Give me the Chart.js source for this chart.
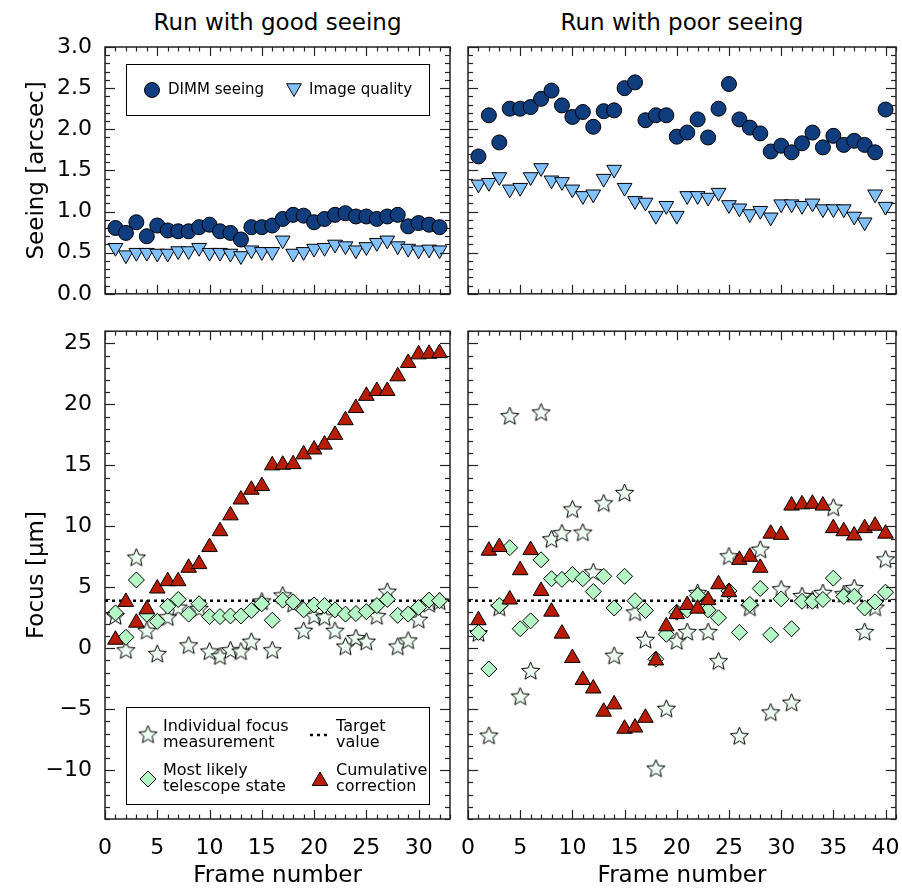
<!DOCTYPE html>
<html>
<head>
<meta charset="utf-8">
<title>Focus runs</title>
<script src="https://cdn.jsdelivr.net/npm/chart.js@4.4.1/dist/chart.umd.min.js"></script>
<style>
  body { margin: 0; background: #fff; }
  #wrap { position: relative; width: 902px; height: 892px; overflow: hidden; }
  #wrap canvas { position: absolute; }
  .ptitle { position: absolute; top: 9px; font: 23px "DejaVu Sans", sans-serif; line-height: 27px; color: #000; text-align: center; white-space: nowrap; }
</style>
</head>
<body>
<div id="wrap">
  <div class="ptitle" style="left:105px; width:345px;">Run with good seeing</div>
  <div class="ptitle" style="left:468px; width:428px;">Run with poor seeing</div>
  <canvas id="seeingGood" width="455" height="320" style="left:0; top:0;"></canvas>
  <canvas id="seeingPoor" width="486" height="320" style="left:430px; top:0;"></canvas>
  <canvas id="focusGood" width="455" height="587" style="left:0; top:305px;"></canvas>
  <canvas id="focusPoor" width="486" height="587" style="left:430px; top:305px;"></canvas>
</div>
<script>
// frame numbers
const goodFrames = [1,2,3,4,5,6,7,8,9,10,11,12,13,14,15,16,17,18,19,20,21,22,23,24,25,26,27,28,29,30,31,32];
const poorFrames = [1,2,3,4,5,6,7,8,9,10,11,12,13,14,15,16,17,18,19,20,21,22,23,24,25,26,27,28,29,30,31,32,33,34,35,36,37,38,39,40];

// seeing [arcsec]
const goodDimm  = [0.80,0.74,0.87,0.70,0.83,0.77,0.76,0.76,0.81,0.84,0.76,0.74,0.66,0.81,0.81,0.83,0.91,0.96,0.95,0.87,0.91,0.96,0.98,0.94,0.94,0.91,0.94,0.96,0.82,0.86,0.84,0.81];
const goodImage = [0.56,0.47,0.50,0.50,0.49,0.49,0.52,0.52,0.56,0.50,0.50,0.49,0.46,0.53,0.51,0.51,0.65,0.49,0.51,0.55,0.56,0.60,0.58,0.53,0.57,0.62,0.65,0.58,0.55,0.53,0.54,0.53];
const poorDimm  = [1.67,2.17,1.84,2.25,2.25,2.27,2.37,2.47,2.29,2.15,2.21,2.03,2.22,2.23,2.50,2.57,2.11,2.17,2.17,1.91,1.96,2.12,1.90,2.25,2.55,2.12,2.02,1.95,1.73,1.80,1.72,1.83,1.96,1.78,1.92,1.81,1.86,1.81,1.72,2.24];
const poorImage = [1.33,1.35,1.42,1.27,1.29,1.42,1.53,1.38,1.36,1.27,1.19,1.21,1.40,1.51,1.29,1.13,1.11,0.95,1.07,0.95,1.19,1.19,1.17,1.23,1.08,1.04,0.97,1.01,0.93,1.09,1.09,1.07,1.10,1.03,1.03,1.03,0.94,0.87,1.21,1.06];

// focus [um]
const goodFocus = [2.6,-0.2,7.4,1.4,-0.5,2.5,3.3,0.2,3.2,-0.3,-0.7,-0.2,-0.3,0.5,3.8,-0.2,4.3,3.6,1.4,2.6,2.5,1.4,0.1,0.8,0.5,2.6,4.6,0.1,0.6,2.3,3.6,3.8];
const goodState = [2.9,0.9,5.6,2.8,2.2,3.45,4.0,2.8,3.65,2.6,2.6,2.65,2.65,3.1,3.65,2.3,3.95,3.8,3.15,3.55,3.5,3.15,2.8,2.85,3.0,3.5,4.0,2.7,2.8,3.35,3.95,3.9];
const goodCorr  = [0.7,3.8,2.1,3.2,4.9,5.5,5.5,6.6,6.9,8.3,9.6,10.9,12.2,13.0,13.3,15.0,15.05,15.1,15.9,16.3,16.7,17.5,18.7,19.7,20.7,21.1,21.1,22.3,23.4,24.1,24.15,24.2];
const poorFocus = [1.2,-7.2,3.3,19.0,-4.0,-1.9,19.3,8.9,9.4,11.35,9.45,6.2,11.85,-0.65,12.7,2.9,0.65,-9.9,-5.0,0.55,1.3,4.5,1.3,-1.1,7.5,-7.25,3.3,8.05,-5.3,4.8,-4.5,4.25,3.9,4.5,11.5,4.4,4.9,1.3,3.3,7.25];
const poorState = [1.3,-1.7,3.5,8.25,1.6,2.25,7.25,5.7,5.65,6.05,5.7,4.65,5.9,3.3,5.9,3.9,3.1,-0.9,1.15,2.95,3.15,4.35,3.15,2.5,4.7,1.3,3.6,4.9,1.1,4.05,1.6,3.85,3.85,4.0,5.75,4.25,4.25,3.3,3.8,4.6];
const poorCorr  = [2.3,8.0,8.3,4.0,6.4,8.05,4.7,3.0,1.2,-0.8,-2.6,-3.3,-5.2,-4.6,-6.6,-6.5,-5.7,-1.0,1.8,2.8,3.55,3.25,3.95,5.25,4.6,7.25,7.5,6.6,9.4,9.3,11.7,11.8,11.85,11.7,9.85,9.6,9.25,9.85,10.05,9.4];
const targetFocus = 3.9;

// axes
const seeingTicks = [0, 0.5, 1, 1.5, 2, 2.5, 3];
const focusTicks = [-10, -5, 0, 5, 10, 15, 20, 25];
const goodFrameTicks = [0, 5, 10, 15, 20, 25, 30];
const poorFrameTicks = [0, 5, 10, 15, 20, 25, 30, 35, 40];

const FONT = '"DejaVu Sans", sans-serif';
const DIMM_COLOR = '#0f3d7e';
const IQ_COLOR = '#82c1ff';
const STAR_COLOR = '#effff4';
const STATE_COLOR = '#b4f6c6';
const CORR_COLOR = '#b81c02';

function pts(xs, ys) {
    return xs.map((x, i) => ({ x: x, y: ys[i] }));
}

function makeStar(r) {
    const s = Math.ceil(r * 2 + 4);
    const c = document.createElement('canvas');
    c.width = s; c.height = s;
    const ctx = c.getContext('2d');
    ctx.translate(s / 2, s / 2);
    ctx.beginPath();
    for (let i = 0; i < 10; i++) {
        const rr = i % 2 ? r * 0.45 : r;
        const a = -Math.PI / 2 + i * Math.PI / 5;
        const px = Math.cos(a) * rr, py = Math.sin(a) * rr;
        if (i === 0) ctx.moveTo(px, py); else ctx.lineTo(px, py);
    }
    ctx.closePath();
    ctx.fillStyle = STAR_COLOR;
    ctx.fill();
    ctx.lineWidth = 1;
    ctx.strokeStyle = '#000';
    ctx.stroke();
    return c;
}
const starImg = makeStar(9.5);

function tickSegment(ctx, x0, y0, x1, y1) {
    ctx.beginPath();
    ctx.moveTo(x0, y0);
    ctx.lineTo(x1, y1);
    ctx.stroke();
}

// box with inward ticks on all four sides, like the original plots
const framePlugin = {
    id: 'frame',
    afterDraw(chart, args, opts) {
        const ctx = chart.ctx;
        const a = chart.chartArea;
        const x = chart.scales.x, y = chart.scales.y;
        const major = opts.major || 1, minor = opts.minor || 1;
        ctx.save();
        ctx.globalAlpha = 1;
        ctx.globalCompositeOperation = 'source-over';
        ctx.setLineDash([]);
        ctx.strokeStyle = '#222';
        ctx.lineWidth = 1.5;
        ctx.strokeRect(a.left, a.top, a.right - a.left, a.bottom - a.top);
        ctx.lineWidth = 1.2;
        try {
            for (let v = 0; v <= x.max; v++) {
                const px = Math.round(x.getPixelForValue(v)) + 0.5;
                const len = v % 5 === 0 ? 9 : 4.5;
                tickSegment(ctx, px, a.bottom, px, a.bottom - len);
                tickSegment(ctx, px, a.top, px, a.top + len);
            }
        } catch (e) { console.error(e); }
        try {
            const n = Math.round((y.max - y.min) / minor);
            for (let k = 0; k <= n; k++) {
                const v = y.min + k * minor;
                const py = Math.round(y.getPixelForValue(v)) + 0.5;
                const q = v / major;
                const len = Math.abs(q - Math.round(q)) < 1e-6 ? 10 : 5;
                tickSegment(ctx, a.left, py, a.left + len, py);
                tickSegment(ctx, a.right, py, a.right - len, py);
            }
        } catch (e) { console.error(e); }
        ctx.restore();
    }
};

const legendPlugin = {
    id: 'legendBox',
    afterDraw(chart, args, opts) {
        if (!opts || !opts.items) return;
        const ctx = chart.ctx;
        ctx.save();
        const b = opts.box;
        ctx.strokeStyle = '#000';
        ctx.lineWidth = 1;
        ctx.strokeRect(b[0] + 0.5, b[1] + 0.5, b[2], b[3]);
        opts.items.forEach(it => {
            if (it.dots) {
                ctx.lineWidth = 2.5;
                ctx.strokeStyle = '#000';
                ctx.setLineDash([3, 4]);
                ctx.beginPath();
                ctx.moveTo(it.x - 8, it.y); ctx.lineTo(it.x + 10, it.y);
                ctx.stroke();
                ctx.setLineDash([]);
            } else {
                ctx.fillStyle = it.fill || '#fff';
                ctx.strokeStyle = '#000';
                ctx.lineWidth = 1;
                Chart.helpers.drawPoint(ctx, { pointStyle: it.style, radius: it.radius, rotation: it.rotation || 0, borderWidth: 1 }, it.x, it.y);
            }
            ctx.fillStyle = '#000';
            ctx.font = opts.font;
            ctx.textBaseline = 'middle';
            ctx.textAlign = 'left';
            it.lines.forEach((t, i) => ctx.fillText(t, it.tx, it.ty + i * opts.lineHeight));
        });
        ctx.restore();
    }
};

const tickFont = { family: FONT, size: 22 };
const titleFont = { family: FONT, size: 23 };

function yAxis(min, max, ticks, width, labelFn, title) {
    return {
        type: 'linear', min: min, max: max,
        afterBuildTicks: s => { s.ticks = ticks.map(v => ({ value: v })); },
        afterFit: s => { s.width = width; },
        grid: { display: false, drawTicks: false },
        border: { display: false },
        ticks: { display: true, font: tickFont, color: labelFn ? '#000' : 'rgba(0,0,0,0)', padding: 13, callback: labelFn || (v => '') },
        title: { display: !!title, text: title || '', font: titleFont, color: '#000', padding: { top: 23, bottom: 0 } }
    };
}

function xAxis(max, ticks, height, withLabels) {
    return {
        type: 'linear', min: 0, max: max,
        afterBuildTicks: s => { s.ticks = ticks.map(v => ({ value: v })); },
        afterFit: s => { s.height = height; },
        grid: { display: false, drawTicks: false },
        border: { display: false },
        ticks: { display: withLabels, font: tickFont, color: '#000', padding: 16, maxRotation: 0, autoSkip: false },
        title: { display: withLabels, text: 'Frame number', font: titleFont, color: '#000', padding: { top: 0, bottom: 2 } }
    };
}

const seeingLabel = v => v.toFixed(1);
const focusLabel = v => v < 0 ? '\u2212' + Math.abs(v) : String(v);

function seeingChart(id, frames, dimm, iq, xmax, frameTicks, left) {
    const plugins = { legend: { display: false }, tooltip: { enabled: false }, frame: { major: 0.5, minor: 0.1 } };
    if (left) {
        plugins.legendBox = {
            box: [126, 64, 303, 51],
            font: '15px ' + FONT,
            lineHeight: 16,
            items: [
                { style: 'circle', radius: 7.5, fill: DIMM_COLOR, x: 152, y: 90, tx: 168, ty: 90, lines: ['DIMM seeing'] },
                { style: 'triangle', rotation: 180, radius: 8.5, fill: IQ_COLOR, x: 294, y: 88, tx: 309, ty: 90, lines: ['Image quality'] }
            ]
        };
    }
    return new Chart(document.getElementById(id), {
        type: 'scatter',
        data: {
            datasets: [
                { label: 'DIMM seeing', data: pts(frames, dimm), pointStyle: 'circle', pointRadius: 7.5,
                  backgroundColor: DIMM_COLOR, borderColor: '#000', borderWidth: 1, order: 0 },
                { label: 'Image quality', data: pts(frames, iq), pointStyle: 'triangle', rotation: 180, pointRadius: 8.5,
                  backgroundColor: IQ_COLOR, borderColor: '#000', borderWidth: 1, order: 1 }
            ]
        },
        options: {
            responsive: false, animation: false, events: [],
            layout: { autoPadding: false, padding: { top: 47, right: left ? 5 : 20, bottom: 0, left: 0 } },
            scales: {
                x: xAxis(xmax, frameTicks, 19, false),
                y: left ? yAxis(0, 3, seeingTicks, 105, seeingLabel, 'Seeing [arcsec]') : yAxis(0, 3, seeingTicks, 38, null, null)
            },
            plugins: plugins
        },
        plugins: [framePlugin, legendPlugin]
    });
}

function focusChart(id, frames, focus, state, corr, xmax, frameTicks, left) {
    const plugins = { legend: { display: false }, tooltip: { enabled: false }, frame: { major: 5, minor: 1 } };
    if (left) {
        plugins.legendBox = {
            box: [126, 402, 303, 97],
            font: '16px ' + FONT,
            lineHeight: 15.5,
            items: [
                { style: starImg, radius: 9, x: 148, y: 430, tx: 163, ty: 422, lines: ['Individual focus', 'measurement'] },
                { dots: true, x: 318, y: 430, tx: 336, ty: 422, lines: ['Target', 'value'] },
                { style: 'rectRot', radius: 8, fill: STATE_COLOR, x: 148, y: 474, tx: 163, ty: 466, lines: ['Most likely', 'telescope state'] },
                { style: 'triangle', radius: 9, fill: CORR_COLOR, x: 320, y: 476, tx: 336, ty: 466, lines: ['Cumulative', 'correction'] }
            ]
        };
    }
    return new Chart(document.getElementById(id), {
        type: 'scatter',
        data: {
            datasets: [
                { label: 'Cumulative correction', data: pts(frames, corr), pointStyle: 'triangle', pointRadius: 9,
                  backgroundColor: CORR_COLOR, borderColor: '#000', borderWidth: 1, order: 0 },
                { label: 'Most likely telescope state', data: pts(frames, state), pointStyle: 'rectRot', pointRadius: 8,
                  backgroundColor: STATE_COLOR, borderColor: '#000', borderWidth: 1, order: 1 },
                { label: 'Individual focus measurement', data: pts(frames, focus), pointStyle: starImg, pointRadius: 9,
                  backgroundColor: STAR_COLOR, borderColor: '#000', borderWidth: 1, order: 2 },
                { label: 'Target value', type: 'line', data: [{ x: 0, y: targetFocus }, { x: xmax, y: targetFocus }],
                  showLine: true, pointRadius: 0, borderColor: '#000', borderWidth: 2.5, borderDash: [3, 4], order: 3 }
            ]
        },
        options: {
            responsive: false, animation: false, events: [],
            layout: { autoPadding: false, padding: { top: 15, right: left ? 5 : 20, bottom: 0, left: 0 } },
            scales: {
                x: xAxis(xmax, frameTicks, 73, true),
                y: left ? yAxis(-14, 26, focusTicks, 105, focusLabel, 'Focus [\u03bcm]') : yAxis(-14, 26, focusTicks, 38, null, null)
            },
            plugins: plugins
        },
        plugins: [framePlugin, legendPlugin]
    });
}

seeingChart('seeingGood', goodFrames, goodDimm, goodImage, 33, goodFrameTicks, true);
seeingChart('seeingPoor', poorFrames, poorDimm, poorImage, 41, poorFrameTicks, false);
focusChart('focusGood', goodFrames, goodFocus, goodState, goodCorr, 33, goodFrameTicks, true);
focusChart('focusPoor', poorFrames, poorFocus, poorState, poorCorr, 41, poorFrameTicks, false);
</script>
</body>
</html>
